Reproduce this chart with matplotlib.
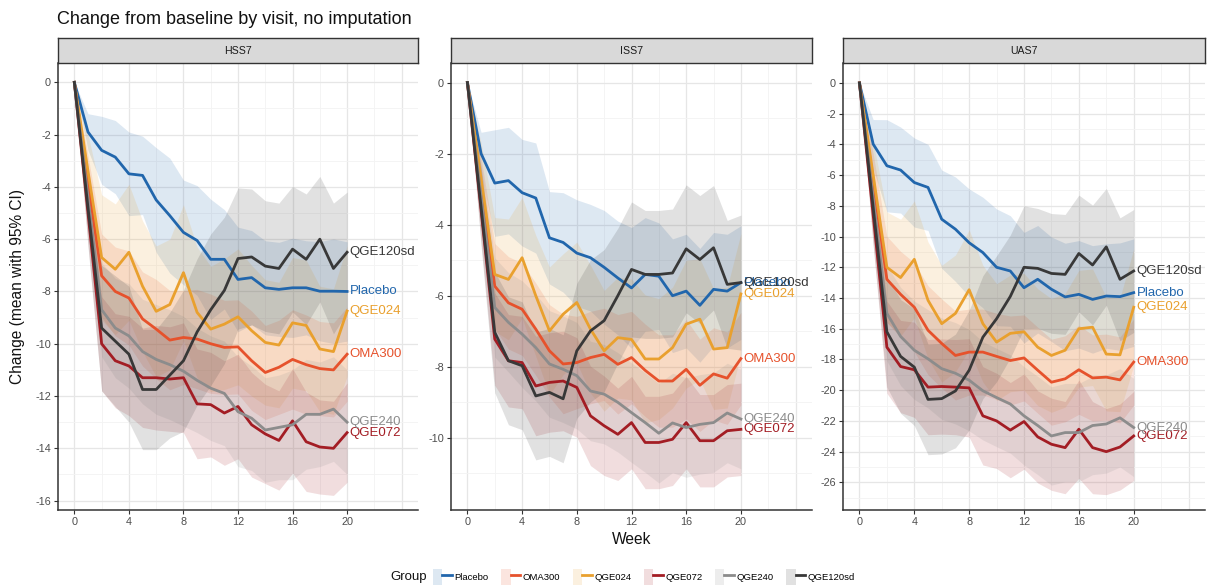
import matplotlib
matplotlib.use("Agg")
import matplotlib.pyplot as plt
from matplotlib.patches import Patch, Rectangle
from matplotlib.lines import Line2D
from matplotlib.legend_handler import HandlerTuple
import numpy as np

plt.rcParams['font.family'] = ['Liberation Sans', 'DejaVu Sans']

weeks = list(range(21))
groups = ["Placebo", "OMA300", "QGE024", "QGE072", "QGE240", "QGE120sd"]
panels = ["HSS7", "ISS7", "UAS7"]

# ---- means ----
hss7_placebo = [0, -1.9, -2.6, -2.86, -3.5, -3.56, -4.5, -5.1, -5.74, -6.05, -6.77, -6.77, -7.54, -7.47, -7.86, -7.92, -7.86, -7.86, -7.99, -7.99, -8.0]
hss7_oma300 = [0, -3.8, -7.4, -8.0, -8.25, -9.05, -9.44, -9.86, -9.76, -9.82, -10.0, -10.14, -10.12, -10.65, -11.1, -10.9, -10.6, -10.8, -10.95, -11.0, -10.4]
hss7_qge024 = [0, -3.4, -6.7, -7.15, -6.5, -7.8, -8.76, -8.5, -7.28, -8.8, -9.44, -9.25, -8.97, -9.5, -9.95, -10.05, -9.2, -9.3, -10.2, -10.3, -8.75]
hss7_qge072 = [0, -5.0, -10.0, -10.65, -10.85, -11.3, -11.3, -11.35, -11.3, -12.3, -12.33, -12.65, -12.4, -13.1, -13.45, -13.7, -12.95, -13.75, -13.95, -14.0, -13.4]
hss7_qge240 = [0, -4.4, -8.7, -9.4, -9.7, -10.3, -10.6, -10.8, -11.05, -11.4, -11.7, -11.9, -12.6, -12.85, -13.3, -13.2, -13.1, -12.7, -12.7, -12.5, -13.0]
hss7_qge120sd = [0, -4.8, -9.4, -9.9, -10.4, -11.75, -11.75, -11.2, -10.65, -9.55, -8.7, -7.96, -6.74, -6.68, -7.03, -7.12, -6.38, -6.77, -6.0, -7.12, -6.5]

iss7_placebo = [0, -2.0, -2.83, -2.76, -3.1, -3.25, -4.37, -4.5, -4.8, -4.93, -5.2, -5.5, -5.78, -5.4, -5.45, -6.0, -5.87, -6.27, -5.82, -5.87, -5.63]
iss7_oma300 = [0, -2.9, -5.73, -6.2, -6.38, -6.94, -7.55, -7.92, -7.88, -7.74, -7.65, -7.93, -7.74, -8.1, -8.4, -8.4, -8.07, -8.52, -8.2, -8.32, -7.77]
iss7_qge024 = [0, -2.7, -5.4, -5.54, -4.93, -6.0, -6.99, -6.52, -6.19, -6.94, -7.55, -7.18, -7.23, -7.78, -7.78, -7.46, -6.8, -6.66, -7.5, -7.46, -5.95]
iss7_qge072 = [0, -3.6, -7.22, -7.83, -7.88, -8.54, -8.44, -8.4, -8.58, -9.38, -9.66, -9.9, -9.57, -10.13, -10.13, -10.04, -9.57, -10.08, -10.08, -9.8, -9.76]
iss7_qge240 = [0, -3.2, -6.33, -6.75, -7.08, -7.46, -7.92, -8.07, -8.25, -8.68, -8.77, -9.0, -9.29, -9.57, -9.87, -9.58, -9.71, -9.62, -9.57, -9.3, -9.47]
iss7_qge120sd = [0, -3.5, -7.03, -7.83, -7.97, -8.82, -8.72, -8.9, -7.55, -6.99, -6.7, -6.0, -5.26, -5.4, -5.4, -5.36, -4.68, -4.98, -4.65, -5.68, -5.63]

uas7_placebo = [0, -3.98, -5.39, -5.67, -6.48, -6.8, -8.87, -9.52, -10.4, -11.04, -12.0, -12.24, -13.33, -12.78, -13.43, -13.93, -13.76, -14.09, -13.87, -13.91, -13.65]
uas7_oma300 = [0, -6.4, -12.78, -13.76, -14.6, -16.1, -16.96, -17.74, -17.52, -17.52, -17.8, -18.07, -17.9, -18.7, -19.48, -19.26, -18.67, -19.2, -19.15, -19.33, -18.17]
uas7_qge024 = [0, -6.0, -12.0, -12.67, -11.48, -14.15, -15.67, -15.0, -13.46, -15.67, -16.87, -16.3, -16.2, -17.2, -17.74, -17.4, -16.0, -15.9, -17.65, -17.7, -14.6]
uas7_qge072 = [0, -8.6, -17.2, -18.46, -18.67, -19.8, -19.76, -19.8, -19.85, -21.67, -22.0, -22.6, -22.04, -23.04, -23.52, -23.74, -22.54, -23.74, -24.0, -23.7, -22.98]
uas7_qge240 = [0, -7.5, -15.0, -16.5, -17.4, -17.96, -18.6, -18.9, -19.35, -20.04, -20.48, -20.9, -21.67, -22.3, -22.98, -22.76, -22.76, -22.3, -22.2, -21.8, -22.43]
uas7_qge120sd = [0, -8.1, -16.2, -17.8, -18.5, -20.6, -20.55, -20.05, -18.7, -16.55, -15.35, -13.9, -12.0, -12.07, -12.4, -12.46, -11.1, -11.85, -10.67, -12.78, -12.24]

# ---- 95% CI half-widths ----
hss7_placebo_hw = [0, 0.7, 1.3, 1.4, 1.6, 1.5, 2.0, 2.2, 2.0, 2.1, 2.3, 1.9, 2.0, 1.8, 1.8, 1.8, 1.9, 1.8, 1.9, 2.0, 1.9]
hss7_oma300_hw = [0, 1.0, 1.6, 1.7, 1.8, 1.8, 1.9, 1.9, 1.8, 1.9, 1.9, 1.8, 1.8, 1.9, 1.8, 1.8, 1.9, 1.9, 1.8, 1.8, 1.8]
hss7_qge024_hw = [0, 1.4, 2.4, 2.5, 2.6, 2.5, 2.5, 2.5, 2.6, 2.5, 2.4, 2.5, 2.6, 2.5, 2.4, 2.4, 2.5, 2.5, 2.4, 2.4, 2.5]
hss7_qge072_hw = [0, 1.2, 1.8, 1.8, 1.9, 1.9, 2.0, 2.0, 2.1, 2.1, 2.0, 2.0, 2.0, 2.0, 1.9, 1.9, 2.0, 1.9, 1.8, 1.8, 1.9]
hss7_qge240_hw = [0, 1.2, 1.8, 1.9, 2.0, 2.0, 2.1, 2.1, 2.1, 2.0, 2.0, 2.0, 2.1, 2.0, 2.0, 2.0, 2.1, 2.1, 2.0, 2.0, 2.0]
hss7_qge120sd_hw = [0, 1.5, 2.4, 2.5, 2.6, 2.3, 2.3, 2.4, 2.7, 2.8, 2.9, 2.8, 2.7, 2.6, 2.5, 2.5, 2.4, 2.5, 2.4, 2.5, 2.3]

iss7_placebo_hw = [0, 0.6, 1.5, 1.5, 1.5, 1.55, 1.3, 1.4, 1.5, 1.5, 1.6, 1.6, 1.7, 1.6, 1.5, 1.6, 1.6, 1.6, 1.6, 1.6, 1.6]
iss7_oma300_hw = [0, 0.8, 1.2, 1.3, 1.3, 1.3, 1.3, 1.4, 1.3, 1.3, 1.3, 1.4, 1.3, 1.3, 1.3, 1.3, 1.4, 1.3, 1.3, 1.3, 1.3]
iss7_qge024_hw = [0, 1.0, 1.6, 1.7, 1.7, 1.7, 1.8, 1.7, 1.7, 1.8, 1.7, 1.7, 1.7, 1.8, 1.7, 1.7, 1.8, 1.7, 1.7, 1.7, 1.7]
iss7_qge072_hw = [0, 0.9, 1.3, 1.3, 1.3, 1.4, 1.4, 1.4, 1.4, 1.4, 1.4, 1.3, 1.3, 1.3, 1.3, 1.3, 1.3, 1.3, 1.3, 1.3, 1.3]
iss7_qge240_hw = [0, 0.9, 1.4, 1.4, 1.5, 1.5, 1.5, 1.5, 1.5, 1.4, 1.4, 1.4, 1.4, 1.4, 1.4, 1.4, 1.4, 1.4, 1.4, 1.4, 1.4]
iss7_qge120sd_hw = [0, 1.1, 1.7, 1.8, 1.8, 1.8, 1.8, 1.8, 1.9, 2.0, 2.0, 1.9, 1.9, 1.8, 1.8, 1.8, 1.8, 1.8, 1.75, 1.8, 1.9]

uas7_placebo_hw = [0, 1.6, 3.0, 2.8, 2.9, 2.8, 3.2, 3.4, 3.5, 3.6, 3.8, 3.6, 3.6, 3.5, 3.4, 3.5, 3.5, 3.5, 3.4, 3.5, 3.5]
uas7_oma300_hw = [0, 1.8, 2.8, 2.8, 2.9, 2.9, 2.9, 2.9, 2.8, 2.8, 2.8, 2.9, 2.8, 2.8, 2.8, 2.8, 2.9, 2.8, 2.8, 2.8, 2.8]
uas7_qge024_hw = [0, 2.2, 3.6, 3.8, 3.8, 3.8, 3.8, 3.8, 3.9, 3.8, 3.8, 3.8, 3.8, 3.8, 3.7, 3.7, 3.8, 3.8, 3.7, 3.7, 3.8]
uas7_qge072_hw = [0, 2.0, 3.0, 3.0, 3.1, 3.1, 3.1, 3.1, 3.2, 3.2, 3.1, 3.1, 3.1, 3.0, 3.0, 3.0, 3.2, 3.0, 2.8, 2.8, 2.9]
uas7_qge240_hw = [0, 2.0, 3.1, 3.2, 3.2, 3.2, 3.3, 3.3, 3.3, 3.2, 3.2, 3.2, 3.2, 3.2, 3.2, 3.2, 3.2, 3.2, 3.2, 3.2, 3.2]
uas7_qge120sd_hw = [0, 2.4, 3.6, 3.7, 3.8, 3.6, 3.6, 3.7, 3.9, 4.0, 4.1, 4.0, 4.0, 3.9, 3.9, 3.9, 3.8, 3.9, 3.8, 4.0, 4.0]

means = {
    "HSS7": [hss7_placebo, hss7_oma300, hss7_qge024, hss7_qge072, hss7_qge240, hss7_qge120sd],
    "ISS7": [iss7_placebo, iss7_oma300, iss7_qge024, iss7_qge072, iss7_qge240, iss7_qge120sd],
    "UAS7": [uas7_placebo, uas7_oma300, uas7_qge024, uas7_qge072, uas7_qge240, uas7_qge120sd],
}
halfw = {
    "HSS7": [hss7_placebo_hw, hss7_oma300_hw, hss7_qge024_hw, hss7_qge072_hw, hss7_qge240_hw, hss7_qge120sd_hw],
    "ISS7": [iss7_placebo_hw, iss7_oma300_hw, iss7_qge024_hw, iss7_qge072_hw, iss7_qge240_hw, iss7_qge120sd_hw],
    "UAS7": [uas7_placebo_hw, uas7_oma300_hw, uas7_qge024_hw, uas7_qge072_hw, uas7_qge240_hw, uas7_qge120sd_hw],
}

y_ticks = {"HSS7": list(range(0, -17, -2)), "ISS7": list(range(0, -11, -2)), "UAS7": list(range(0, -27, -2))}
y_lims = {"HSS7": (-16.36, 0.74), "ISS7": (-12.03, 0.55), "UAS7": (-27.8, 1.3)}
x_ticks = [0, 4, 8, 12, 16, 20]

colors = ["#2166AC", "#E6522C", "#E9A02E", "#A31D24", "#8C8C8C", "#383838"]

W, H = 1208, 587
fig = plt.figure(figsize=(W / 100, H / 100), dpi=100)
fig.patch.set_facecolor("white")

panel_px = [(58, 418), (451, 812), (843, 1205)]
ptop, pbot = 63, 510
stop = 38

for (x0, x1), pname in zip(panel_px, panels):
    ax = fig.add_axes([x0 / W, (H - pbot) / H, (x1 - x0) / W, (pbot - ptop) / H])
    ax.set_facecolor("white")
    ax.set_xlim(-1.2, 25.2)
    ax.set_ylim(*y_lims[pname])
    # grid
    yt = y_ticks[pname]
    for v in range(0, 25, 4):
        ax.axvline(v, color="#E6E6E6", lw=0.9, zorder=0)
    for v in range(2, 25, 4):
        ax.axvline(v, color="#F3F3F3", lw=0.6, zorder=0)
    for v in yt:
        ax.axhline(v, color="#E6E6E6", lw=0.9, zorder=0)
    for v in range(yt[-1] - 1, 1, 2):
        ax.axhline(v, color="#F3F3F3", lw=0.6, zorder=0)

    for g, c, m, hw in zip(groups, colors, means[pname], halfw[pname]):
        m_arr = np.array(m)
        hw_arr = np.array(hw)
        ax.fill_between(weeks, m_arr - hw_arr, m_arr + hw_arr, color=c, alpha=0.15, lw=0, zorder=1)
    for g, c, m in zip(groups, colors, means[pname]):
        ax.plot(weeks, m, color=c, lw=2.0, zorder=3, solid_joinstyle="round")
        ax.text(weeks[-1] + 0.2, m[-1], g, color=c, fontsize=9.5, ha="left", va="center", zorder=4)

    ax.set_xticks(x_ticks)
    ax.set_yticks(yt)
    ax.set_xticklabels([str(v) for v in x_ticks])
    ax.set_yticklabels([str(v) for v in yt])
    ax.tick_params(axis="both", length=3, width=0.8, color="#333333", labelsize=7.8,
                   labelcolor="#4D4D4D", pad=2)
    for s in ["top", "right"]:
        ax.spines[s].set_visible(False)
    for s in ["left", "bottom"]:
        ax.spines[s].set_color("#333333")
        ax.spines[s].set_linewidth(1.1)

    # strip
    sax = fig.add_axes([x0 / W, (H - ptop) / H, (x1 - x0) / W, (ptop - stop) / H])
    sax.set_xticks([])
    sax.set_yticks([])
    sax.set_facecolor("#D9D9D9")
    for s in sax.spines.values():
        s.set_color("#333333")
        s.set_linewidth(1.0)
    sax.text(0.5, 0.5, pname, ha="center", va="center", fontsize=7.6, color="#1A1A1A",
             transform=sax.transAxes)

fig.text(57 / W, 1 - 19 / H, "Change from baseline by visit, no imputation", fontsize=13,
         ha="left", va="center", color="#111111")
fig.text(18 / W, 1 - 287 / H, "Change (mean with 95% CI)", fontsize=11.2, rotation=90,
         ha="center", va="center", color="#111111")
fig.text(632 / W, 1 - 539 / H, "Week", fontsize=11.2, ha="center", va="center", color="#111111")

# legend
handles = [(Patch(facecolor=c, alpha=0.15, edgecolor="none"), Line2D([], [], color=c, lw=2.0))
           for c in colors]
fig.text(390 / W, 1 - 577 / H, "Group", fontsize=9.5, ha="left", va="center", color="#111111")
leg = fig.legend(handles, groups, ncol=6, loc="center left",
                 bbox_to_anchor=(433 / W, 1 - 577 / H), frameon=False, fontsize=6.8,
                 handler_map={tuple: HandlerTuple(ndivide=None, pad=0)},
                 handlelength=2.0, handleheight=2.2, handletextpad=0.3, columnspacing=1.3,
                 borderpad=0, borderaxespad=0)

fig.savefig("out.png", dpi=100, facecolor="white")
